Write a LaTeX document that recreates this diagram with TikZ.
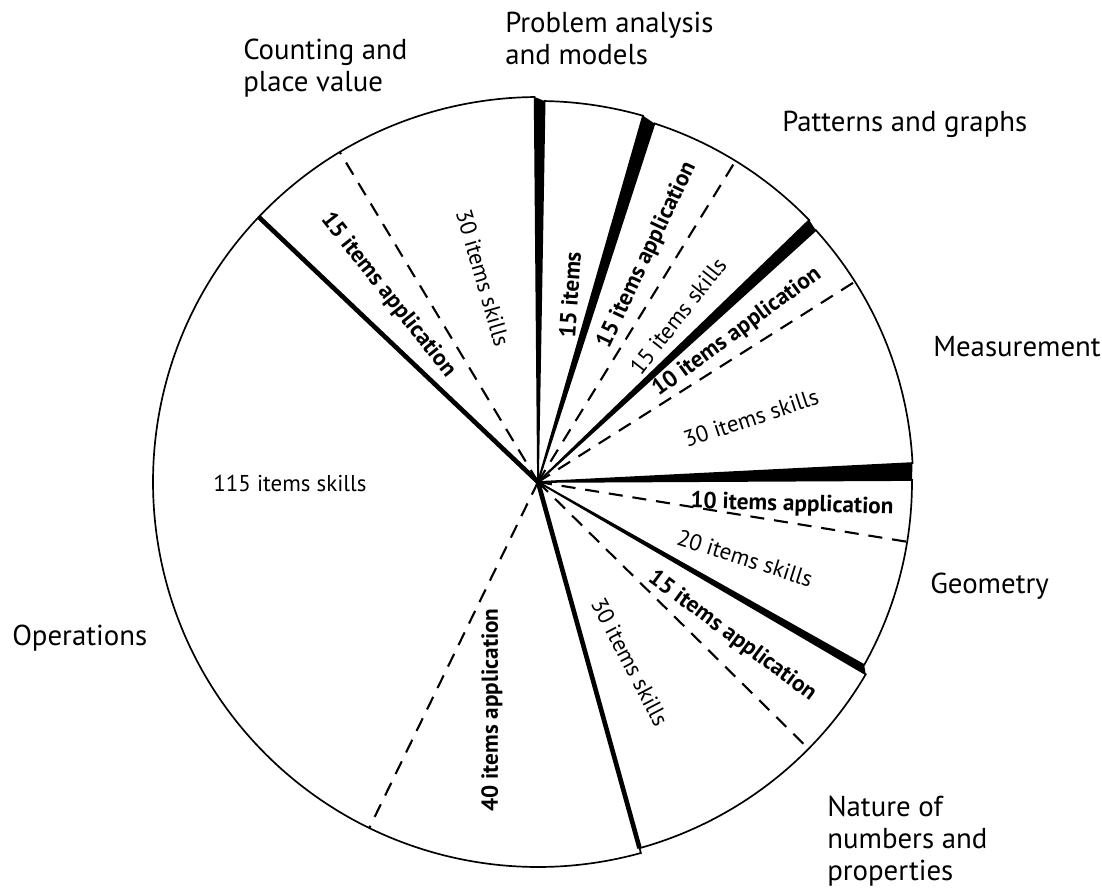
\documentclass[tikz,border=0pt]{standalone}
\usepackage{fontspec}
\setmainfont{PT Sans}

\begin{document}
\begin{tikzpicture}[x=0.025cm,y=0.025cm,
  sector/.style={draw,line width=1.2pt,fill=white},
  split/.style={dash pattern=on 10pt off 7pt,line width=1.5pt},
  gap/.style={fill=black},
  rim/.style={line width=3.3pt},
  topic/.style={inner sep=0pt,align=left,font=\fontsize{20.5}{22.5}\selectfont},
  skills/.style={inner sep=0pt,font=\fontsize{16.3}{18}\selectfont},
  appl/.style={inner sep=0pt,font=\fontsize{16.5}{18}\selectfont\bfseries}]

\useasboundingbox (-538,-407) rectangle (564,482);

% Sectors
\coordinate (c) at (0,0);
\path[sector] (c) -- (136.5:385) arc[start angle=136.5,end angle=285.5,radius=385] -- cycle;
\path[sector] (c) -- (90.5:385) arc[start angle=90.5,end angle=136.5,radius=385] -- cycle;
\path[sector] (c) -- (74:381) arc[start angle=74,end angle=89,radius=381] -- cycle;
\path[sector] (c) -- (44:377) arc[start angle=44,end angle=72,radius=377] -- cycle;
\path[sector] (c) -- (2.9:375) arc[start angle=2.9,end angle=42.2,radius=375] -- cycle;
\path[sector] (c) -- (-29.3:374) arc[start angle=-29.3,end angle=0.3,radius=374] -- cycle;
\path[sector] (c) -- (-74.5:380) arc[start angle=-74.5,end angle=-30.4,radius=380] -- cycle;

% Split lines
\draw[split] (c) -- (244:385);
\draw[split] (c) -- (121:385);
\draw[split] (c) -- (58.4:377);
\draw[split] (c) -- (32.3:375);
\draw[split] (c) -- (-9.2:374);
\draw[split] (c) -- (-44.6:380);

% Gaps
\fill[gap] (c) -- (89:381) -- (90.5:385) -- cycle;
\fill[gap] (c) -- (72:377) -- (74:381) -- cycle;
\fill[gap] (c) -- (42.2:375) -- (44:377) -- cycle;
\fill[gap] (c) -- (0.3:374) -- (2.9:375) -- cycle;
\fill[gap] (c) -- (-30.4:380) -- (-29.3:374) -- cycle;
\draw[rim] (c) -- (136.5:385);
\draw[rim] (c) -- (-74.5:380);

% Item labels
\node[skills] (operS) at (-248,-1) {115 items skills};
\node[appl,rotate=90] (operA) at (-46,-228) {40 items application};
\node[appl,rotate=-51.6] (countA) at (-150,187) {15 items application};
\node[skills,rotate=-73.7] (countS) at (-55,204) {30 items skills};
\node[appl,rotate=86] (probA) at (32,187) {15 items};
\node[appl,rotate=64.7] (pattA) at (109,227) {15 items application};
\node[skills,rotate=51.8] (pattS) at (140,166) {15 items skills};
\node[appl,rotate=36.3] (measA) at (199,150) {10 items application};
\node[skills,rotate=18.4] (measS) at (213,64) {30 items skills};
\node[appl,rotate=-1.7] (geomA) at (254,-23) {10 items application};
\node[skills,rotate=-17.7] (geomS) at (207,-76) {20 items skills};
\node[appl,rotate=-36.5] (natA) at (194,-154) {15 items application};
\node[skills,rotate=-62.4] (natS) at (92,-180) {30 items skills};

% Topics
\node[topic,anchor=north west] (count) at (-295,443) {Counting and\\place value};
\node[topic,anchor=north west] (prob) at (-33,470) {Problem analysis\\and models};
\node[topic,anchor=north west] (patt) at (244,371) {Patterns and graphs};
\node[topic,anchor=north west] (meas) at (395,146) {Measurement};
\node[topic,anchor=north west] (geom) at (392,-91) {Geometry};
\node[topic,anchor=north west] (oper) at (-526,-143) {Operations};
\node[topic,anchor=north west] (nat) at (289,-314) {Nature of\\numbers and\\properties};

\end{tikzpicture}
\end{document}
